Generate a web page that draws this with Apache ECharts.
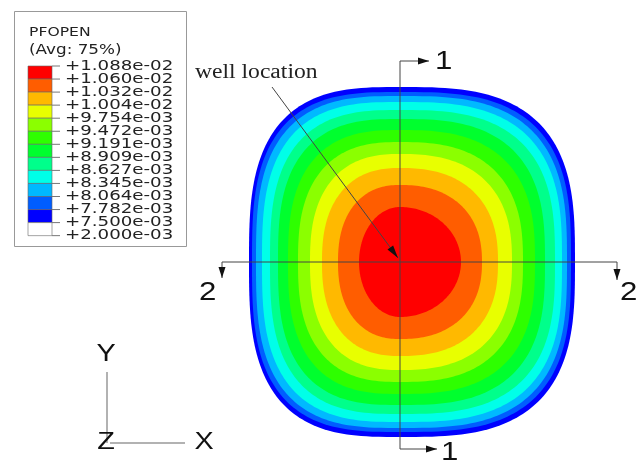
<!DOCTYPE html>
<html>
<head>
<meta charset="utf-8">
<script src="https://cdn.jsdelivr.net/npm/echarts@6/dist/echarts.min.js"></script>
<style>
html,body{margin:0;padding:0;background:#fff;}
#main{width:640px;height:461px;}
</style>
</head>
<body>
<div id="main"></div>
<script>
// legend (Abaqus contour key), top to bottom
const levelLabels = ['+1.088e-02','+1.060e-02','+1.032e-02','+1.004e-02','+9.754e-03','+9.472e-03','+9.191e-03',
  '+8.909e-03','+8.627e-03','+8.345e-03','+8.064e-03','+7.782e-03','+7.500e-03','+2.000e-03']
const legendColors = ['#FF0000','#FF5D00','#FFB900','#E8FF00','#8BFF00','#2EFF00','#00FF2E','#00FF8B','#00FFE8','#00B9FF','#005DFF','#0000FF','#FFFFFF']

// contour band outlines around the well (well at 0,0), outer band first
const bandColors = ['#0000FF','#005DFF','#00B9FF','#00FFE8','#00FF8B','#00FF2E','#2EFF00','#8BFF00','#E8FF00','#FFB900','#FF5D00','#FF0000']
const bandLeft   = [151,148,144,138,130,122,112,102,90,78,62,41]
const bandRight  = [175,171,167,162,155,145,135,123,112,98,82,61]
const bandTop    = [175,170,166,160,152,143,132,120,108,94,77,55]
const bandBottom = [175,170,166,160,152,143,132,120,108,94,77,55]
const bandPower  = [3.0,3.0,2.95,2.9,2.85,2.8,2.7,2.6,2.5,2.4,2.3,2.0]

// section lines 1-1 and 2-2, and the well pointer (arrow heads at both ends)
const cut1 = [[29,201],[0,201],[0,-187],[37,-187]]
const cut2 = [[-178,-16],[-178,0],[217,0],[217,-18]]
const wellArrow = [[-128,175],[-2,4]]

let chart = echarts.init(document.getElementById('main'))

function bandShape(params, api) {
  const i = api.value(0)
  const n = bandPower[i]
  let pts = []
  for (let k = 0; k < 240; k++) {
    const t = k / 240 * 2 * Math.PI
    const c = Math.cos(t), s = Math.sin(t)
    const x = Math.sign(c) * Math.pow(Math.abs(c), 2 / n) * (c > 0 ? bandRight[i] : bandLeft[i])
    const y = Math.sign(s) * Math.pow(Math.abs(s), 2 / n) * (s > 0 ? bandTop[i] : bandBottom[i])
    pts.push(api.coord([x, y]))
  }
  return {type: 'polygon', shape: {points: pts}, style: {fill: bandColors[i]}}
}

// arrow head sitting on the end point 'tip', pointing away from 'from'
function head(tip, from, len) {
  const dx = tip[0] - from[0], dy = tip[1] - from[1]
  const d = Math.sqrt(dx * dx + dy * dy)
  const ang = Math.atan2(dy, dx) * 180 / Math.PI
  return {
    value: [tip[0] - dx / d * len / 2, tip[1] - dy / d * len / 2],
    symbolRotate: ang - 90
  }
}
let cutHeads = []
;[cut1, cut2].forEach(p => {
  cutHeads.push(head(p[0], p[1], 11))
  cutHeads.push(head(p[p.length - 1], p[p.length - 2], 11))
})
let wellHead = [head(wellArrow[1], wellArrow[0], 13)]

// legend graphics
const lgTop = 66, lgH = 13.05, lgX = 28, lgW = 24
const sx = 1.2 // the figure is stretched sideways
let legend = [
  {type: 'rect', shape: {x: 14.5, y: 11.5, width: 172, height: 235}, style: {fill: '#fff', stroke: '#999', lineWidth: 1}},
  {type: 'text', x: 29, y: 33, scaleX: sx, style: {text: 'PFOPEN', font: '13px "DejaVu Sans"', fill: '#222', verticalAlign: 'middle'}},
  {type: 'text', x: 29, y: 50, scaleX: sx, style: {text: '(Avg: 75%)', font: '14px "DejaVu Sans"', fill: '#222', verticalAlign: 'middle'}}
]
legendColors.forEach((c, i) => {
  legend.push({type: 'rect', shape: {x: lgX, y: lgTop + i * lgH, width: lgW, height: lgH},
    style: {fill: c, stroke: '#666', lineWidth: 0.6}})
})
levelLabels.forEach((t, i) => {
  const y = lgTop + i * lgH
  legend.push({type: 'line', shape: {x1: lgX + lgW, y1: y, x2: lgX + lgW + 8, y2: y}, style: {stroke: '#777', lineWidth: 1}})
  legend.push({type: 'text', x: 65, y: y, scaleX: 1.3, style: {text: t, font: '14px "DejaVu Sans"', fill: '#222', verticalAlign: 'middle'}})
})

const bigFont = '26px "Liberation Sans"'
let notes = [
  {type: 'text', x: 195, y: 73, scaleX: 1.18, style: {text: 'well location', font: '20px "Liberation Serif"', fill: '#222', verticalAlign: 'middle'}},
  {type: 'text', x: 435, y: 62, scaleX: sx, style: {text: '1', font: bigFont, fill: '#111', verticalAlign: 'middle'}},
  {type: 'text', x: 441, y: 453, scaleX: sx, style: {text: '1', font: bigFont, fill: '#111', verticalAlign: 'middle'}},
  {type: 'text', x: 199, y: 293, scaleX: sx, style: {text: '2', font: bigFont, fill: '#111', verticalAlign: 'middle'}},
  {type: 'text', x: 620, y: 293, scaleX: sx, style: {text: '2', font: bigFont, fill: '#111', verticalAlign: 'middle'}},
  // global triad
  {type: 'line', shape: {x1: 107, y1: 372, x2: 107, y2: 443}, style: {stroke: '#999', lineWidth: 1.5}},
  {type: 'line', shape: {x1: 110, y1: 443, x2: 185, y2: 443}, style: {stroke: '#999', lineWidth: 1.5}},
  {type: 'text', x: 106, y: 354, scaleX: sx, style: {text: 'Y', font: '24px "Liberation Sans"', fill: '#111', align: 'center', verticalAlign: 'middle'}},
  {type: 'text', x: 106, y: 442, scaleX: sx, style: {text: 'Z', font: '24px "Liberation Sans"', fill: '#111', align: 'center', verticalAlign: 'middle'}},
  {type: 'text', x: 204, y: 442, scaleX: sx, style: {text: 'X', font: '24px "Liberation Sans"', fill: '#111', align: 'center', verticalAlign: 'middle'}}
]

let option = {
  animation: false,
  backgroundColor: '#fff',
  grid: {left: 0, right: 0, top: 0, bottom: 0},
  xAxis: {type: 'value', min: -400, max: 240, show: false},
  yAxis: {type: 'value', min: -199, max: 262, show: false},
  series: [
    {
      type: 'custom',
      renderItem: bandShape,
      silent: true,
      data: bandColors.map((c, i) => [i])
    },
    {
      type: 'lines',
      coordinateSystem: 'cartesian2d',
      polyline: true,
      silent: true,
      lineStyle: {color: '#444', width: 1, opacity: 1},
      data: [{coords: cut1}, {coords: cut2}, {coords: wellArrow}],
      z: 5
    },
    {
      type: 'scatter',
      silent: true,
      symbol: 'triangle',
      symbolSize: [7, 11],
      itemStyle: {color: '#111', opacity: 1},
      data: cutHeads,
      z: 6
    },
    {
      type: 'scatter',
      silent: true,
      symbol: 'triangle',
      symbolSize: [7, 13],
      itemStyle: {color: '#111', opacity: 1},
      data: wellHead,
      z: 6
    }
  ],
  graphic: legend.concat(notes)
}
chart.setOption(option)
</script>
</body>
</html>
